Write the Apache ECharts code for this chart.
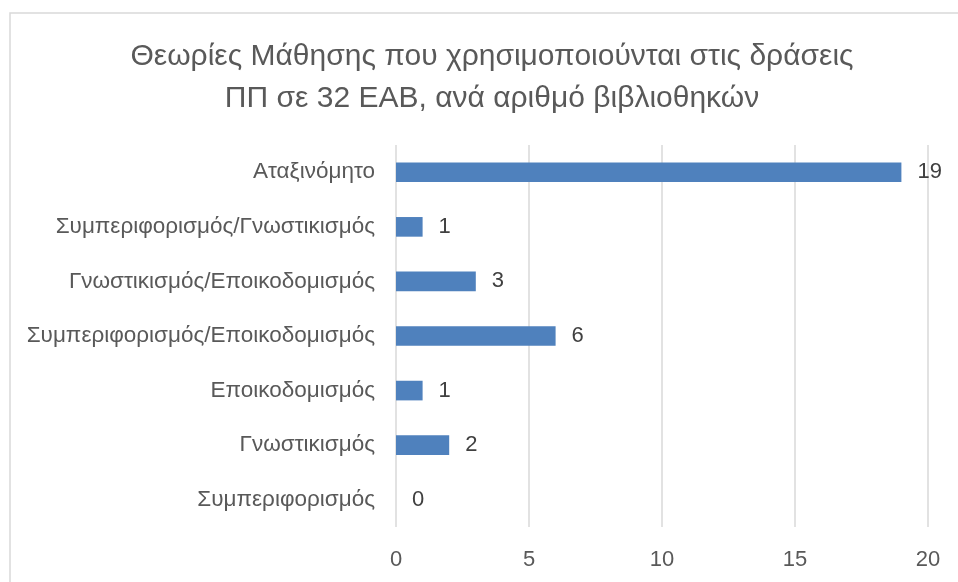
<!DOCTYPE html>
<html>
<head>
<meta charset="utf-8">
<script src="https://cdn.jsdelivr.net/npm/echarts@6/dist/echarts.min.js"></script>
<style>
  html, body { margin: 0; padding: 0; background: #fff; }
  #chart { width: 958px; height: 582px; }
</style>
</head>
<body>
<div id="chart"></div>
<script>
// κατηγορίες από κάτω προς τα πάνω
const categories = [
    'Συμπεριφορισμός',
    'Γνωστικισμός',
    'Εποικοδομισμός',
    'Συμπεριφορισμός/Εποικοδομισμός',
    'Γνωστικισμός/Εποικοδομισμός',
    'Συμπεριφορισμός/Γνωστικισμός',
    'Αταξινόμητο'
];
const libraryCounts = [0, 2, 1, 6, 3, 1, 19];
const xTicks = [0, 5, 10, 15, 20];

const FONT = '"Liberation Sans", "Noto Sans", sans-serif';

const chart = echarts.init(document.getElementById('chart'));

const option = {
    backgroundColor: '#fff',
    textStyle: { fontFamily: FONT },
    title: {
        text: 'Θεωρίες Μάθησης που χρησιμοποιούνται στις δράσεις\nΠΠ σε 32 ΕΑΒ, ανά αριθμό βιβλιοθηκών',
        left: 492,
        textAlign: 'center',
        top: 36,
        padding: 0,
        textStyle: {
            fontFamily: FONT,
            fontSize: 30,
            fontWeight: 'normal',
            color: '#595959',
            lineHeight: 42
        }
    },
    // πλαίσιο γύρω από το διάγραμμα
    graphic: [{
        type: 'rect',
        shape: { x: 10, y: 13, width: 1000, height: 700 },
        style: { fill: 'none', stroke: '#d9d9d9', lineWidth: 1.5 },
        silent: true
    }],
    grid: { left: 396, right: 30, top: 145, bottom: 55, containLabel: false },
    xAxis: {
        type: 'value',
        min: xTicks[0],
        max: xTicks[xTicks.length - 1],
        interval: 5,
        axisLine: { show: false },
        axisTick: { show: false },
        axisLabel: { fontSize: 22, color: '#595959', margin: 22 },
        splitLine: { lineStyle: { color: '#d9d9d9', width: 1.5 } }
    },
    yAxis: {
        type: 'category',
        data: categories,
        axisLine: { show: false },
        axisTick: { show: false },
        axisLabel: { fontSize: 22.5, color: '#595959', margin: 21 }
    },
    series: [{
        type: 'bar',
        data: libraryCounts,
        barWidth: '36%',
        itemStyle: { color: '#4f81bd' },
        label: {
            show: true,
            position: 'right',
            distance: 16,
            fontSize: 22,
            color: '#404040'
        }
    }]
};

chart.setOption(option);
</script>
</body>
</html>
